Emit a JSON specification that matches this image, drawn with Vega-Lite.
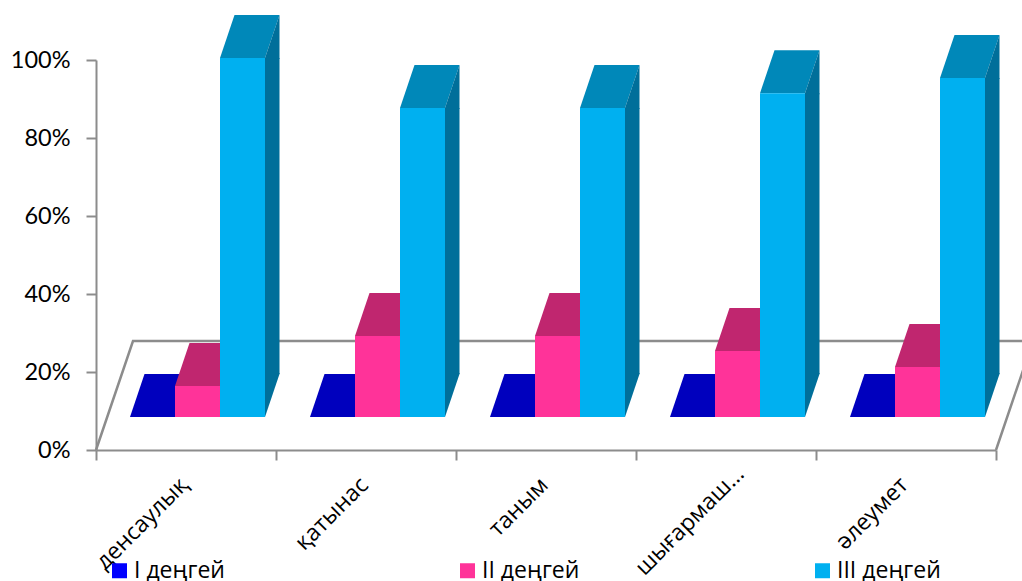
{
"$schema":"https://vega.github.io/schema/vega-lite/v6.json",
"width":900,"height":390,
"autosize":{"type":"none"},
"padding":{"left":96,"top":60,"right":26,"bottom":131},
"background":"white",
"view":{"stroke":null},
"config":{"point":{"opacity":1},"axis":{"grid":false}},
"data":{"values":[
{"category":"денсаулық","level":"I деңгей","value":8.46},
{"category":"денсаулық","level":"II деңгей","value":16.4},
{"category":"денсаулық","level":"III деңгей","value":100.5},
{"category":"қатынас","level":"I деңгей","value":8.46},
{"category":"қатынас","level":"II деңгей","value":29.2},
{"category":"қатынас","level":"III деңгей","value":87.7},
{"category":"таным","level":"I деңгей","value":8.46},
{"category":"таным","level":"II деңгей","value":29.2},
{"category":"таным","level":"III деңгей","value":87.7},
{"category":"шығармаш…","level":"I деңгей","value":8.46},
{"category":"шығармаш…","level":"II деңгей","value":25.4},
{"category":"шығармаш…","level":"III деңгей","value":91.5},
{"category":"әлеумет","level":"I деңгей","value":8.46},
{"category":"әлеумет","level":"II деңгей","value":21.3},
{"category":"әлеумет","level":"III деңгей","value":95.4}
]},
"encoding":{
"x":{"field":"category","type":"nominal","sort":null,
"scale":{"domain":["денсаулық","қатынас","таным","шығармаш…","әлеумет"],"paddingInner":0,"paddingOuter":0},
"axis":{"title":null,"labelAngle":-45,"labelAlign":"right","labelBaseline":"middle","labelFont":"Open Sans","labelFontSize":23,"labelColor":"#000000","labelPadding":{"expr":"datum.value==='шығармаш…'?10:21"},"labelOffset":{"expr":"datum.value==='шығармаш…'?14:-2"},"labelOverlap":false,"labelLimit":300,"tickBand":"extent","tickSize":10,"tickWidth":2,"tickColor":"#8c8c8c","domainColor":"#8c8c8c","domainWidth":2}},
"xOffset":{"field":"level","type":"nominal","sort":null,
"scale":{"domain":["I деңгей","II деңгей","III деңгей"],"range":[34,169],"paddingInner":0,"paddingOuter":0}},
"y":{"field":"value","type":"quantitative",
"scale":{"domain":[0,100],"nice":false,"zero":false},
"axis":{"title":null,"values":[0,20,40,60,80,100],"labelExpr":"datum.value+'%'","labelFont":"Lato","labelFontSize":23.5,"labelColor":"#000000","labelPadding":16,"tickSize":10,"tickWidth":2,"tickColor":"#8c8c8c","domainColor":"#8c8c8c","domainWidth":2}}
},
"layer":[
{"transform":[{"filter":"datum.category==='денсаулық' && datum.level==='I деңгей'"}],
 "mark":{"type":"point","shape":"M0,0L37,-109L940,-109M900,0L937,-109","size":4,"filled":false,"stroke":"#8c8c8c","strokeWidth":2.5,"opacity":1,"clip":false},
 "encoding":{"x":{"field":"category","type":"nominal","bandPosition":0},"xOffset":{"value":0},"y":{"datum":0}}},
{"transform":[{"filter":"datum.level==='I деңгей'"}],
 "mark":{"type":"point","shape":"M-22.5,0L22.5,0L37,-43L-8,-43Z","size":4,"filled":true,"fill":"#0000BE","strokeWidth":0,"opacity":1}},
{"transform":[{"filter":"datum.level==='II деңгей'"}],
 "mark":{"type":"point","shape":"M-22.5,0L22.5,0L37,-43L-8,-43Z","size":4,"filled":true,"fill":"#C0266F","strokeWidth":0,"opacity":1}},
{"transform":[{"filter":"datum.level==='III деңгей'"}],
 "mark":{"type":"point","shape":"M-22.5,0L22.5,0L37,-43L-8,-43Z","size":4,"filled":true,"fill":"#0088B9","strokeWidth":0,"opacity":1}},
{"mark":{"type":"bar"},
 "encoding":{"y2":{"datum":8.46},
 "color":{"field":"level","type":"nominal","sort":null,
  "scale":{"domain":["I деңгей","II деңгей","III деңгей"],"range":["#0000FF","#FF3399","#00B0F0"]},
  "legend":{"title":null,"orient":"none","legendX":12,"legendY":499,"direction":"horizontal","columns":3,"columnPadding":231,"gridAlign":"each","symbolType":"square","symbolSize":225,"symbolStrokeWidth":0,"symbolOpacity":1,"labelFont":"Open Sans","labelFontSize":23,"labelColor":"#000000","labelOffset":3}}}},
{"transform":[{"filter":"datum.level==='III деңгей'"}],
 "mark":{"type":"rule","strokeWidth":14.5,"stroke":"#006F9A"},
 "encoding":{"xOffset":{"value":176.25},"y2":{"datum":19.5}}},
{"transform":[{"filter":"datum.level==='III деңгей'"}],
 "mark":{"type":"point","shape":"M22.5,0L37,-43L37,1L22.5,1Z","size":4,"filled":true,"fill":"#006F9A","strokeWidth":0,"opacity":1}},
{"transform":[{"filter":"datum.level==='III деңгей'"}],
 "mark":{"type":"point","shape":"M22.5,0L37,-43L37,-44L22.5,-44Z","size":4,"filled":true,"fill":"#006F9A","strokeWidth":0,"opacity":1},
 "encoding":{"y":{"datum":8.46}}}
]
}
